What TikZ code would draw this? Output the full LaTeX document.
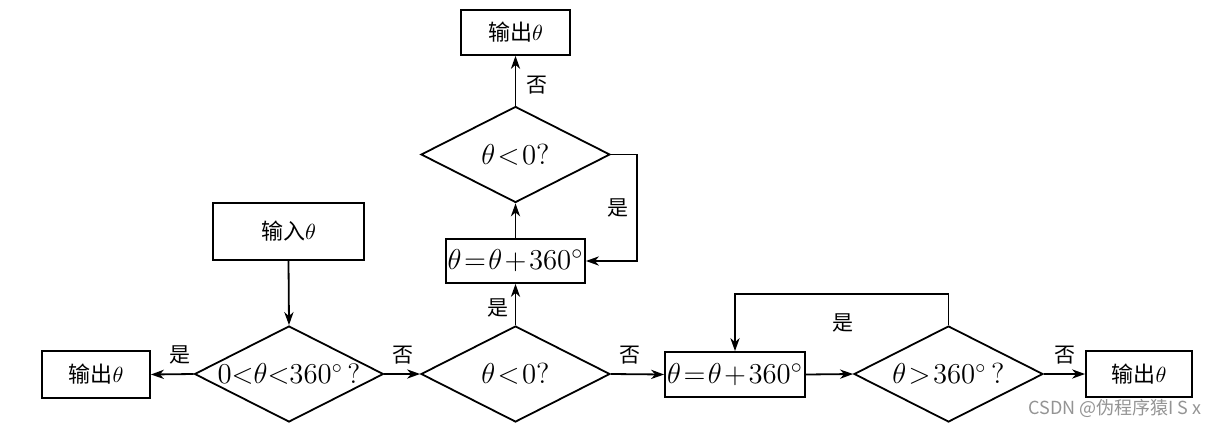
\documentclass[tikz,border=0pt]{standalone}
\usepackage{fontspec}
\newfontfamily\cjk{Noto Sans CJK SC}
\usetikzlibrary{shapes.geometric,arrows.meta}
\tikzset{
  box/.style={draw,rectangle,inner sep=0pt,line width=0.9pt},
  dia/.style={draw,diamond,inner sep=0pt,minimum width=94.5pt,minimum height=48pt,line width=0.9pt},
  lab/.style={inner sep=0pt,font=\fontsize{10.5}{12}\selectfont\cjk},
  txt/.style={inner sep=0pt},
  conn/.style={->,line width=0.9pt},
  >={Stealth[length=6.5pt,width=4.6pt,inset=2pt]},
  every node/.append style={execute at begin node={\thickmuskip=1.5mu\medmuskip=1.5mu}}
}
\begin{document}
\begin{tikzpicture}[x=0.5pt,y=-0.5pt]
\useasboundingbox (0,0) rectangle (1224,428);
% boxes
\node[box,minimum width=54.5pt,minimum height=22.5pt,font=\fontsize{11}{12}\selectfont] (tout) at (515.5,32.5) {{\cjk 输出}$\theta$};
\node[box,minimum width=69.5pt,minimum height=22pt,font=\fontsize{15}{18}\selectfont] (ub) at (515.5,261) {$\theta=\theta+360^\circ$};
\node[box,minimum width=75.5pt,minimum height=28.5pt,font=\fontsize{11}{12}\selectfont] (inp) at (288.5,231.5) {{\cjk 输入}$\theta$};
\node[box,minimum width=54pt,minimum height=23.5pt,font=\fontsize{11}{12}\selectfont] (lout) at (96,374.5) {{\cjk 输出}$\theta$};
\node[box,minimum width=70pt,minimum height=22.5pt,font=\fontsize{15}{18}\selectfont] (lb) at (735,374.5) {$\theta=\theta+360^\circ$};
\node[box,minimum width=53pt,minimum height=23pt,font=\fontsize{11}{12}\selectfont] (rout) at (1139,374) {{\cjk 输出}$\theta$};
% diamonds
\node[dia] (td) at (515.5,154.5) {};
\node[txt,font=\fontsize{14.5}{16}\selectfont] (tdt) at (td.center) {$\theta<0$?};
\node[dia] (d1) at (289,374) {};
\node[txt,font=\fontsize{14}{16}\selectfont,execute at begin node={\thickmuskip=0mu\medmuskip=0mu}] (d1t) at (d1.center) {$0<\theta<360^\circ$\,?};
\node[dia] (d2) at (515.5,374) {};
\node[txt,font=\fontsize{14.5}{16}\selectfont] (d2t) at (d2.center) {$\theta<0$?};
\node[dia] (d3) at (948.5,374) {};
\node[txt,font=\fontsize{14.5}{16}\selectfont] (d3t) at (d3.center) {$\theta>360^\circ$\,?};
% helper coordinates
\coordinate (rloop) at (637,154.5);
\coordinate (tloop) at (948.5,294);
% connectors
\draw[conn] (inp.south) -- (d1.north);
\draw[conn] (d1.west) -- (lout.east);
\draw[conn] (d1.east) -- (d2.west);
\draw[conn] (d2.north) -- (ub.south);
\draw[conn] (ub.north) -- (td.south);
\draw[conn] (td.north) -- (tout.south);
\draw[conn] (td.east) -- (rloop) |- (ub.east);
\draw[conn] (d2.east) -- (lb.west);
\draw[conn] (lb.east) -- (d3.west);
\draw[conn] (d3.north) -- (tloop) -| (lb.north);
\draw[conn] (d3.east) -- (rout.west);
% labels
\node[lab] (l1) at (180,355) {是};
\node[lab] (l2) at (403,355) {否};
\node[lab] (l3) at (498,308) {是};
\node[lab] (l4) at (630,355) {否};
\node[lab] (l5) at (537,85) {否};
\node[lab] (l6) at (618,208) {是};
\node[lab] (l7) at (843,323) {是};
\node[lab] (l8) at (1065,355) {否};
% watermark
\node[inner sep=0pt,text=black!42,font=\fontsize{9}{10}\selectfont\cjk] (wm) at (1115,408) {CSDN @伪程序猿I S x};
\end{tikzpicture}
\end{document}
